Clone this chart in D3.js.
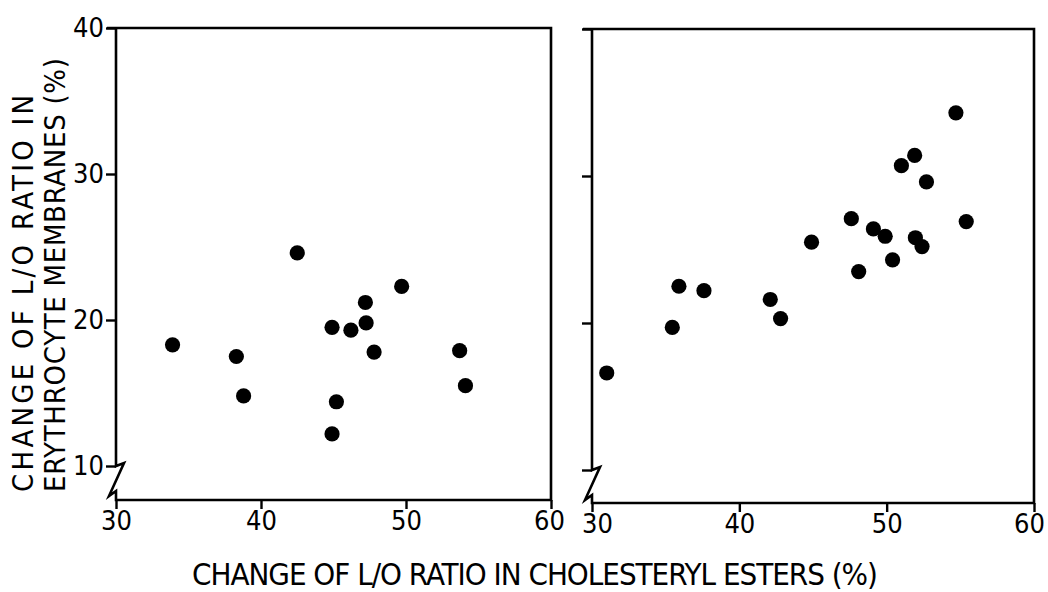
<!DOCTYPE html>
<html>
<head>
<meta charset="utf-8">
<script src="https://cdn.jsdelivr.net/npm/d3@7"></script>
<style>
  body { margin: 0; background: #fff; }
  svg text { font-family: "DejaVu Sans Condensed", "Liberation Sans Narrow", sans-serif; fill: #000; }
</style>
</head>
<body>
<div class="chart"></div>
<script>
// left panel: erythrocyte membranes vs cholesteryl esters (group 1)
var leftX = [33.9, 42.5, 38.3, 38.8, 44.9, 46.2, 47.2, 47.25, 49.7, 47.8, 53.7, 54.1, 45.2, 44.9]
var leftY = [18.3, 24.6, 17.5, 14.8, 19.5, 19.3, 21.2, 19.8, 22.3, 17.8, 17.9, 15.5, 14.4, 12.2]

// right panel (group 2)
var rightX = [31.0, 35.45, 35.9, 37.6, 42.1, 42.8, 44.9, 47.6, 48.1, 49.1, 49.9, 50.4, 51.0, 51.9, 51.95, 52.4, 52.7, 54.7, 55.4]
var rightY = [16.6, 19.7, 22.5, 22.2, 21.6, 20.3, 25.5, 27.1, 23.5, 26.4, 25.9, 24.3, 30.7, 31.4, 25.8, 25.2, 29.6, 34.3, 26.9]

var xTicks = [30, 40, 50, 60]
var yTicks = [10, 20, 30, 40]

var xTitle = 'CHANGE OF L/O RATIO IN CHOLESTERYL ESTERS (%)'
var yTitle1 = 'CHANGE OF L/O RATIO IN'
var yTitle2 = 'ERYTHROCYTE MEMBRANES (%)'

var width = 1048, height = 592

var svg = d3.select('.chart').append('svg')
    .attr('width', width)
    .attr('height', height)

var renderPanel = function(xs, ys, opts) {
  var x = d3.scaleLinear().domain([30, 60]).range([opts.left, opts.right])
  var y = d3.scaleLinear().domain([10, 40]).range([opts.y10, opts.top])

  var data = xs.map(function(d, i) { return { x: d, y: ys[i] } })

  var x0 = opts.left, y10 = y(10), top = y(40)

  // frame with broken y axis below 10
  var p = d3.path()
  p.moveTo(x0 - 9, top)
  p.lineTo(opts.right, top)
  p.lineTo(opts.right, opts.bottom)
  p.lineTo(x0, opts.bottom)
  p.lineTo(x0, y10 + 25)
  p.lineTo(x0 - 7, y10 + 30)
  p.lineTo(x0 + 8, y10 - 3)
  p.lineTo(x0, y10)
  p.lineTo(x0, top)

  svg.append('path')
    .attr('d', p.toString())
    .attr('fill', 'none')
    .attr('stroke', '#000')
    .attr('stroke-width', 2.6)
    .attr('stroke-linejoin', 'miter')

  var yAxis = svg.append('g')
    .attr('transform', 'translate(' + x0 + ',0)')
    .call(d3.axisLeft(y).tickValues(yTicks).tickSize(10).tickPadding(2)
      .tickFormat(opts.yLabels ? d3.format('d') : ''))
  yAxis.select('.domain').remove()

  var xAxis = svg.append('g')
    .attr('transform', 'translate(0,' + opts.bottom + ')')
    .call(d3.axisBottom(x).tickValues(xTicks).tickSize(9).tickPadding(2).tickFormat(d3.format('d')))
  xAxis.select('.domain').remove()
  xAxis.selectAll('.tick text').attr('dx', function(d) { return opts.labelShift(d) })

  svg.selectAll('.tick line').attr('stroke', '#000').attr('stroke-width', 2.4)
  svg.selectAll('.tick text').style('font-size', '27px').attr('fill', '#000')

  svg.append('g').selectAll('circle')
    .data(data)
    .enter().append('circle')
    .attr('cx', function(d) { return x(d.x) })
    .attr('cy', function(d) { return y(d.y) })
    .attr('r', 7.6)
    .attr('fill', '#000')
}

renderPanel(leftX, leftY, {
  left: 116, right: 551, top: 28, y10: 466, bottom: 500, yLabels: true,
  labelShift: function(d) { return d === 60 ? -2 : 0 }
})
renderPanel(rightX, rightY, {
  left: 592, right: 1034, top: 29, y10: 470, bottom: 503, yLabels: false,
  labelShift: function(d) { return d === 30 ? 5 : d === 60 ? -5 : 0 }
})

svg.append('text')
  .attr('x', 192)
  .attr('y', 585)
  .attr('textLength', 686)
  .attr('lengthAdjust', 'spacing')
  .style('font-size', '31px')
  .text(xTitle)

svg.append('text')
  .attr('transform', 'translate(33,492) rotate(-90)')
  .attr('textLength', 397)
  .attr('lengthAdjust', 'spacing')
  .style('font-size', '29px')
  .text(yTitle1)

svg.append('text')
  .attr('transform', 'translate(65,492) rotate(-90)')
  .attr('textLength', 434)
  .attr('lengthAdjust', 'spacing')
  .style('font-size', '29px')
  .text(yTitle2)
</script>
</body>
</html>
